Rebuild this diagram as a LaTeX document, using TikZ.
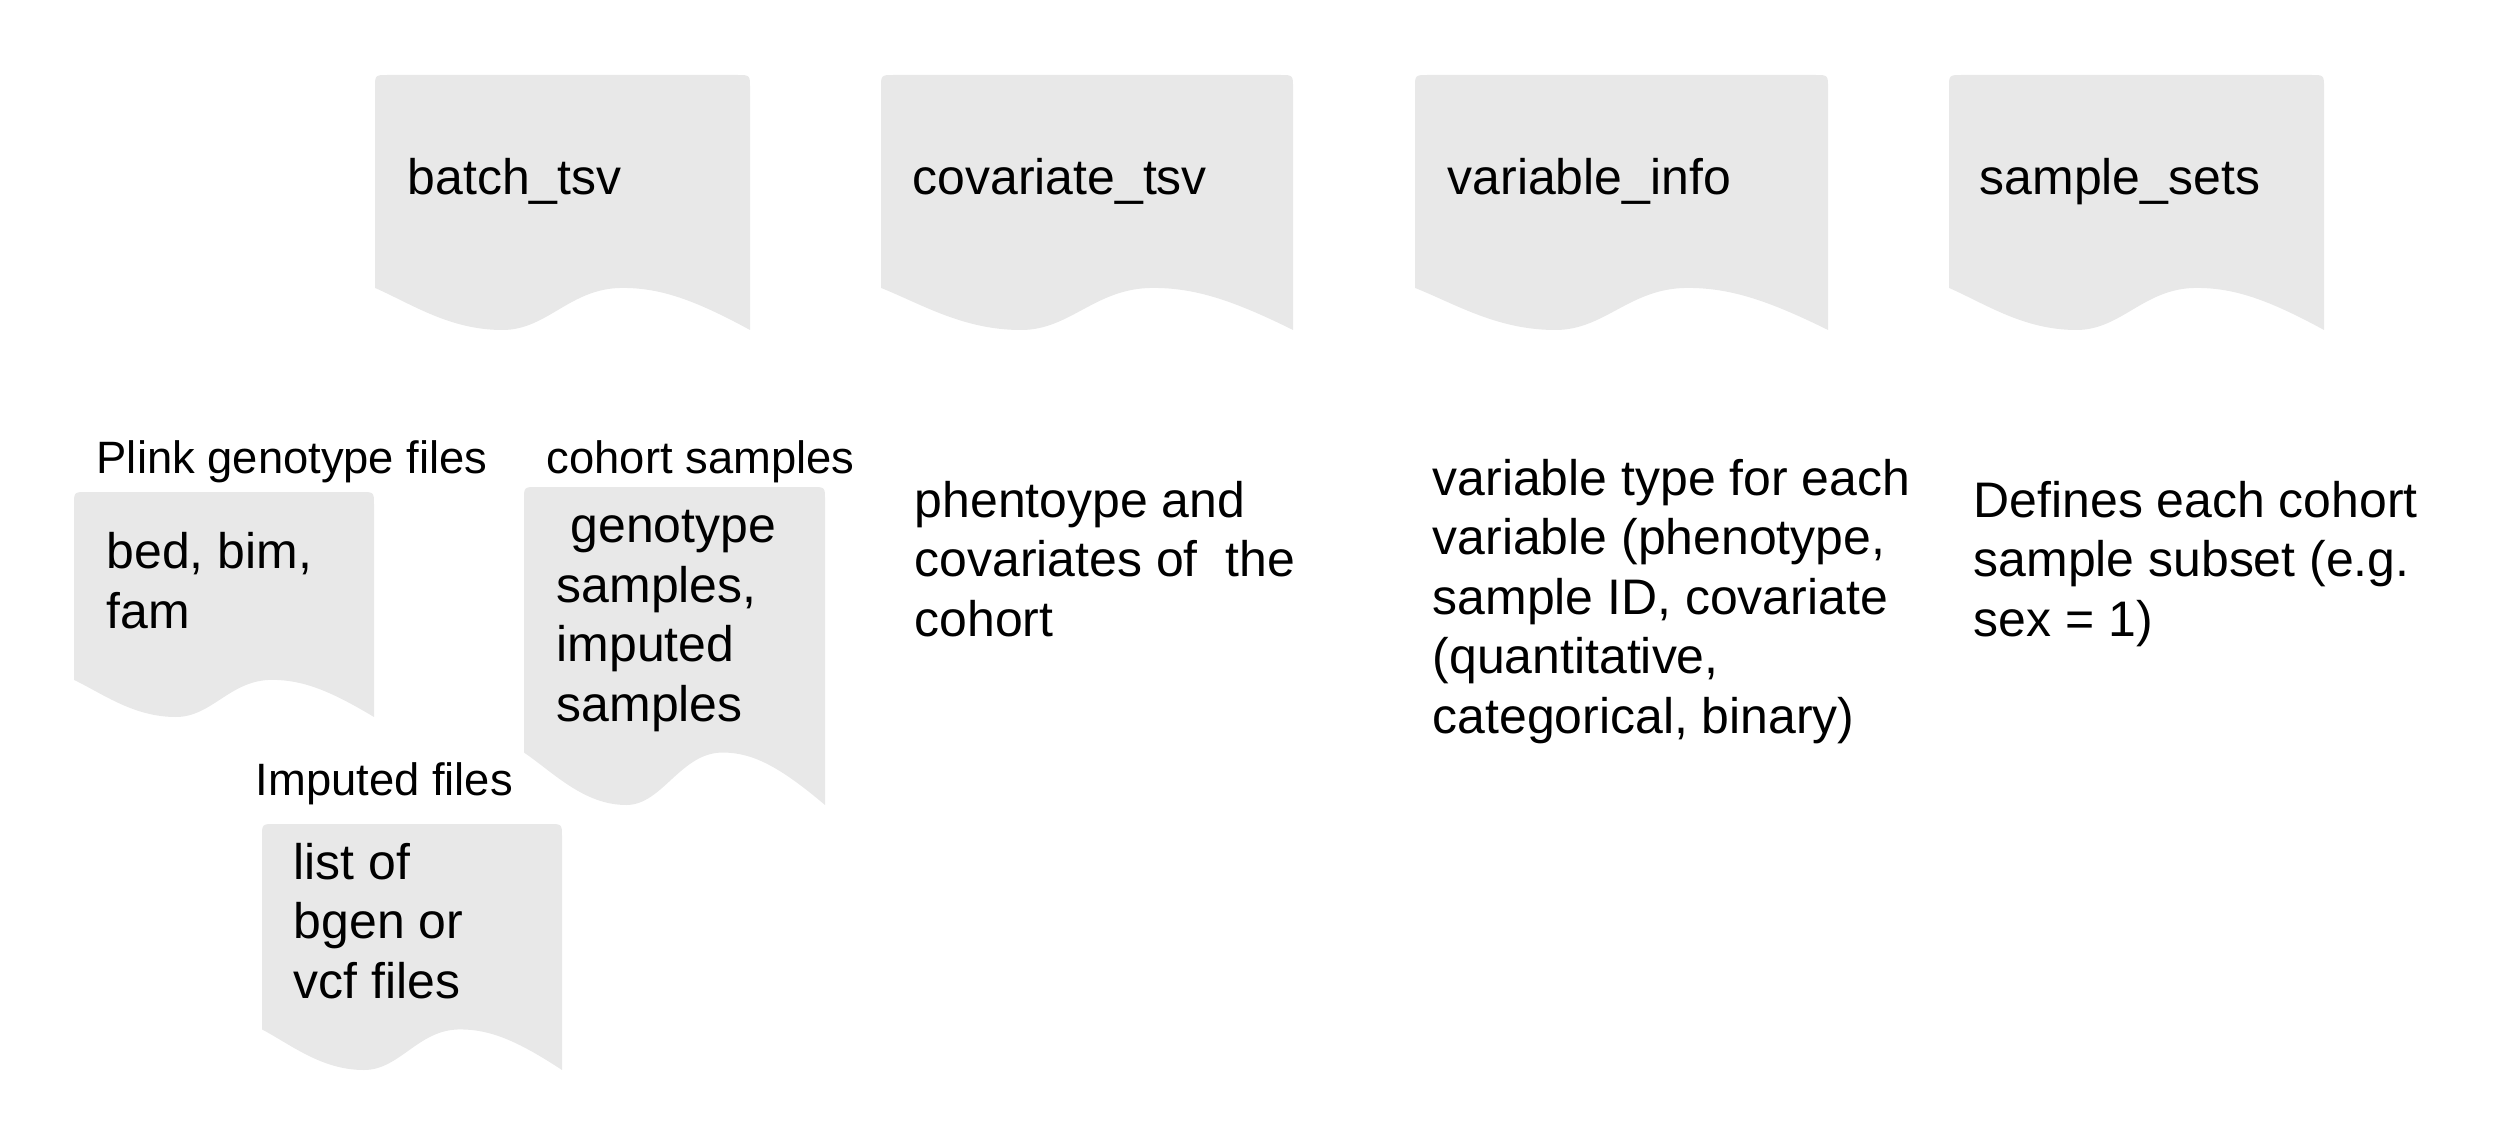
\documentclass[tikz,border=0pt]{standalone}
\usepackage{fontspec}
\setmainfont{Liberation Sans}
\usepackage{tikz}
\usetikzlibrary{positioning}
\definecolor{docgrey}{HTML}{E8E8E8}
\tikzset{
  pics/docsheet/.style 2 args={
    code={
      \fill[docgrey] (0,0.835*#2) -- (0,13) .. controls (0,0) .. (13,0)
        -- (#1-13,0) .. controls (#1,0) .. (#1,13) -- (#1,#2)
        .. controls (0.85*#1,0.88*#2) and (0.76*#1,0.835*#2) .. (0.66*#1,0.835*#2)
        .. controls (0.52*#1,0.835*#2) and (0.46*#1,#2) .. (0.34*#1,#2)
        .. controls (0.2*#1,#2) and (0.1*#1,0.9*#2) .. (0,0.835*#2) -- cycle;
    }
  },
  doctitle/.style={
    anchor=base west,
    inner sep=0,
    font=\fontsize{14.2pt}{16.9pt}\selectfont
  },
  % base of a multi-line node is its last line
  doctext/.style={
    anchor=base west,
    inner sep=0,
    align=left,
    font=\fontsize{14.2pt}{16.9pt}\selectfont
  },
  doclabel/.style={
    anchor=base west,
    inner sep=0,
    font=\fontsize{12.9pt}{15.5pt}\selectfont
  }
}

\begin{document}
\begin{tikzpicture}[x=0.01cm,y=-0.01cm]
        \useasboundingbox (0,0) rectangle (2513,1146);
        % inputs along the top
        \pic at (375,75) {docsheet={375}{255}};
        \node[doctitle] (batch) at (407,195) {batch\_tsv};
        \pic at (881,75) {docsheet={412}{255}};
        \node[doctitle] (covar) at (912,195) {covariate\_tsv};
        \pic at (1415,75) {docsheet={413}{255}};
        \node[doctitle] (varinfo) at (1447,195) {variable\_info};
        \pic at (1949,75) {docsheet={375}{255}};
        \node[doctitle] (sets) at (1979,195) {sample\_sets};
        %
        \node[doclabel] (plinklab) at (96,473) {Plink genotype files};
        \pic at (74,492) {docsheet={300}{225}};
        \node[doctext] (plink) at (106,628) {bed, bim,\\fam};
        %
        \node[doclabel] (cohortlab) at (546,473) {cohort samples};
        \pic at (524,487) {docsheet={301}{318}};
        \node[doctext] (cohort) at (556,721) {\ genotype\\samples,\\imputed\\samples};
        %
        \node[doclabel] (implab) at (255,795) {Imputed files};
        \pic at (262,824) {docsheet={300}{246}};
        \node[doctext] (imputed) at (293,998) {list of\\bgen or\\vcf files};
        % descriptions
        \node[doctext] (covardesc) at (914,636) {phentoype and\\covariates of\ \ the\\cohort};
        \node[doctext] (vardesc) at (1432,733) {variable type for each\\variable (phenotype,\\sample ID, covariate\\(quantitative,\\categorical, binary)};
        \node[doctext] (setsdesc) at (1973,636) {Defines each cohort\\sample subset (e.g.\\sex = 1)};
    \end{tikzpicture}
\end{document}
